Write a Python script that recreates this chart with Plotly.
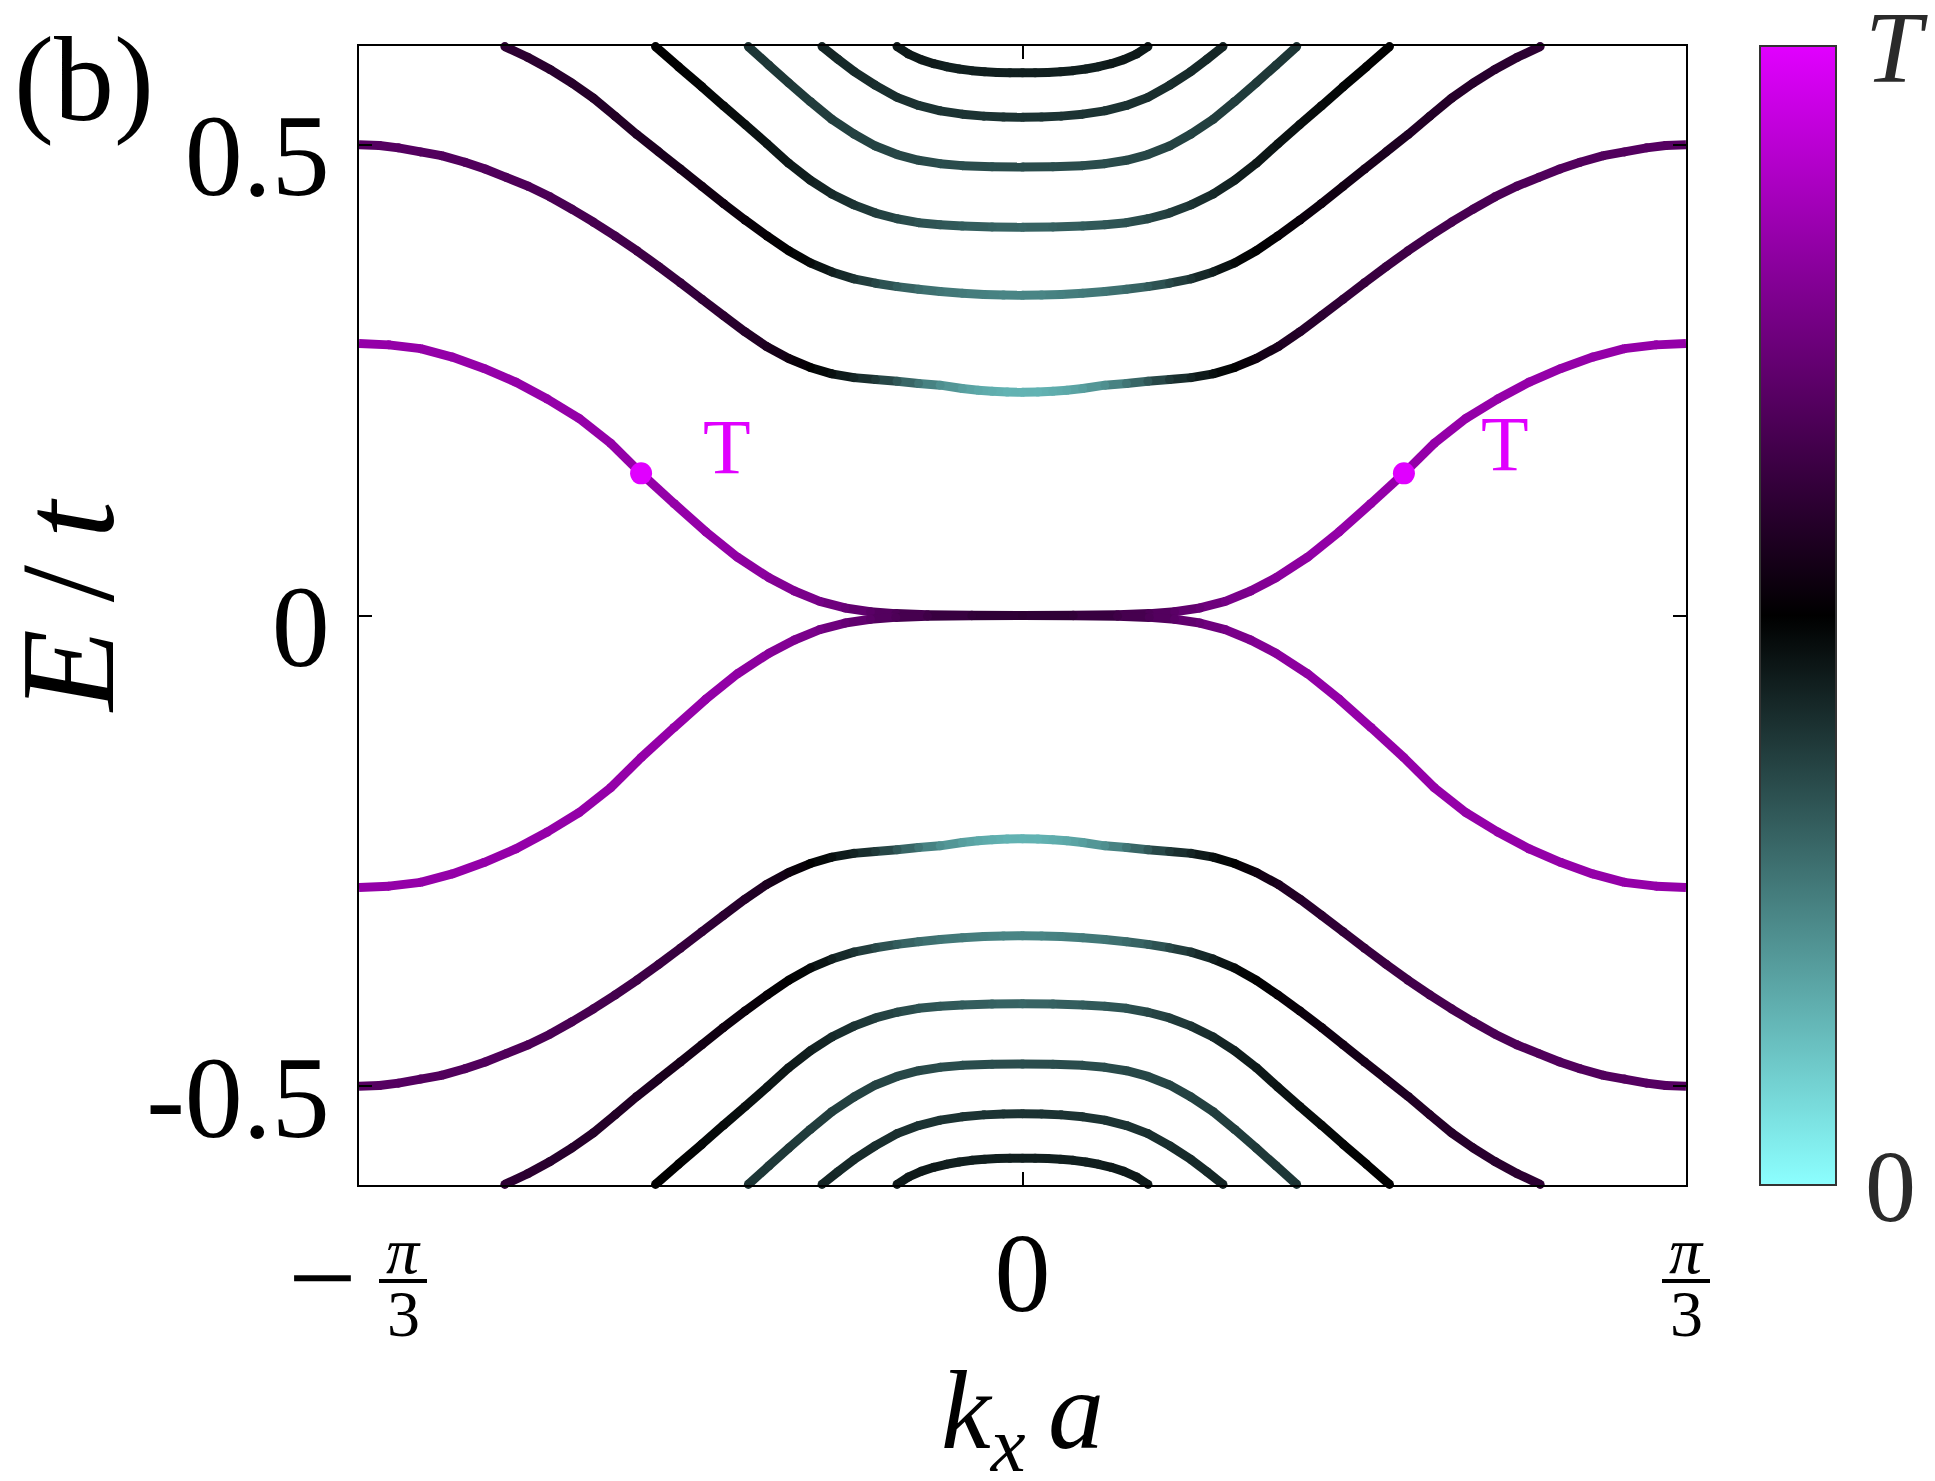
import numpy as np
import plotly.graph_objects as go

PI3 = np.pi / 3
SERIF = "Liberation Serif"

# ---------------- data ----------------
# Upper bands, left half only (kx*a from left end up to 0); E/t; colour value (0 -> 0, 1 -> T)
kx_A = [-1.0472, -1.00, -0.95, -0.90, -0.85, -0.80, -0.75, -0.70, -0.65, -0.602,
        -0.55, -0.50, -0.45, -0.40, -0.36, -0.32, -0.28, -0.24, -0.20, -0.15, -0.08, 0.0]
E_A = [0.289, 0.2875, 0.2835, 0.2745, 0.2625, 0.248, 0.230, 0.2095, 0.183, 0.151,
       0.119, 0.089, 0.062, 0.040, 0.026, 0.015, 0.008, 0.004, 0.002, 0.0007, 0.0002, 0.0]
c_A = [0.83, 0.83, 0.83, 0.83, 0.83, 0.83, 0.83, 0.83, 0.83, 0.83,
       0.83, 0.83, 0.82, 0.80, 0.78, 0.76, 0.73, 0.70, 0.67, 0.64, 0.61, 0.60]

kx_B = [-1.0472, -1.015, -0.985, -0.95, -0.917, -0.88, -0.848, -0.815, -0.780, -0.745,
        -0.711, -0.677, -0.643, -0.608, -0.574, -0.540, -0.506, -0.472, -0.438, -0.404,
        -0.369, -0.335, -0.301, -0.266, -0.232, -0.198, -0.164, -0.130, -0.095, -0.070,
        -0.048, -0.024, 0.0]
E_B = [0.500, 0.4993, 0.4968, 0.4925, 0.4885, 0.4815, 0.4743, 0.4655, 0.456, 0.4445,
       0.4316, 0.4178, 0.4031, 0.3872, 0.3706, 0.3535, 0.336, 0.3185, 0.3014, 0.2858,
       0.273, 0.2635, 0.2567, 0.2527, 0.2506, 0.2488, 0.2465, 0.2447, 0.2412, 0.2393,
       0.2382, 0.2374, 0.2372]
c_B = [0.69, 0.69, 0.69, 0.685, 0.68, 0.68, 0.68, 0.675, 0.67, 0.665,
       0.66, 0.655, 0.65, 0.64, 0.63, 0.62, 0.61, 0.595, 0.58, 0.56,
       0.53, 0.50, 0.47, 0.43, 0.39, 0.33, 0.27, 0.22, 0.19, 0.17,
       0.16, 0.15, 0.15]

kx_C = [-0.817, -0.781, -0.7455, -0.711, -0.677, -0.643, -0.6086, -0.574, -0.540, -0.506,
        -0.472, -0.438, -0.403, -0.369, -0.335, -0.301, -0.266, -0.232, -0.198, -0.164,
        -0.130, -0.095, -0.061, -0.030, 0.0]
E_C = [0.6044, 0.5930, 0.580, 0.5655, 0.5495, 0.5305, 0.5109, 0.4925, 0.4743, 0.456,
       0.4377, 0.4202, 0.4031, 0.3875, 0.3746, 0.365, 0.3576, 0.3530, 0.3494, 0.3465,
       0.3441, 0.3424, 0.3411, 0.3404, 0.3402]
c_C = [0.60, 0.595, 0.59, 0.585, 0.58, 0.575, 0.57, 0.56, 0.55, 0.54,
       0.53, 0.52, 0.51, 0.50, 0.48, 0.44, 0.40, 0.36, 0.32, 0.29,
       0.27, 0.26, 0.25, 0.24, 0.24]

kx_D = [-0.5792, -0.543, -0.506, -0.472, -0.4375, -0.403, -0.369, -0.335, -0.301, -0.266,
        -0.232, -0.198, -0.164, -0.130, -0.095, -0.048, 0.0]
E_D = [0.6044, 0.583, 0.5617, 0.5415, 0.5215, 0.501, 0.4804, 0.4625, 0.4478, 0.4362,
       0.4275, 0.4215, 0.4173, 0.4150, 0.4137, 0.4128, 0.4125]
c_D = [0.50, 0.50, 0.49, 0.48, 0.47, 0.46, 0.45, 0.44, 0.42, 0.40,
       0.38, 0.36, 0.34, 0.33, 0.32, 0.31, 0.30]

kx_E = [-0.4327, -0.40, -0.369, -0.335, -0.301, -0.266, -0.232, -0.198, -0.164, -0.130,
        -0.095, -0.048, 0.0]
E_E = [0.6044, 0.5845, 0.5658, 0.5460, 0.5271, 0.5115, 0.4987, 0.4897, 0.4836, 0.4800,
       0.4779, 0.4767, 0.4764]
c_E = [0.40, 0.39, 0.39, 0.38, 0.38, 0.37, 0.37, 0.36, 0.36, 0.35,
       0.35, 0.35, 0.35]

kx_F = [-0.3164, -0.291, -0.266, -0.232, -0.198, -0.164, -0.130, -0.095, -0.061, -0.030, 0.0]
E_F = [0.6044, 0.5908, 0.578, 0.5632, 0.5504, 0.5418, 0.5361, 0.5326, 0.5305, 0.5295, 0.5292]
c_F = [0.43, 0.42, 0.42, 0.41, 0.41, 0.40, 0.40, 0.40, 0.40, 0.40, 0.40]

kx_G = [-0.198, -0.180, -0.160, -0.140, -0.120, -0.100, -0.080, -0.060, -0.040, -0.020, 0.0]
E_G = [0.6044, 0.5965, 0.5905, 0.5862, 0.5830, 0.5806, 0.5788, 0.5776, 0.5769, 0.5766, 0.5765]
c_G = [0.45, 0.45, 0.45, 0.45, 0.44, 0.44, 0.44, 0.44, 0.44, 0.44, 0.44]

# marked points "T"
kx_T = [-0.602, 0.602]
E_T = [0.151, 0.151]
kx_Tlab = [-0.466, 0.7615]
E_Tlab = [0.180, 0.183]

# axis ticks
x_tickvals = [-PI3, 0.0, PI3]
y_tickvals = [-0.5, 0.0, 0.5]
y_ticktext = ["-0.5", "0", "0.5"]

# colour map (0 -> T)
cs_pos = [0.0, 0.5, 1.0]
cs_col = ["#8cffff", "#000000", "#e100ff"]
cbar_tickvals = [0, 1]
cbar_ticktext = ["0", "<i>T</i>"]

# ---------------- helpers ----------------
def hex2rgb(h):
    h = h.lstrip("#")
    return [int(h[i:i + 2], 16) for i in (0, 2, 4)]

def cmap(v):
    v = min(max(v, 0.0), 1.0)
    for i in range(len(cs_pos) - 1):
        if cs_pos[i] <= v <= cs_pos[i + 1]:
            t = (v - cs_pos[i]) / (cs_pos[i + 1] - cs_pos[i])
            a, b = hex2rgb(cs_col[i]), hex2rgb(cs_col[i + 1])
            r = [round(a[k] + t * (b[k] - a[k])) for k in range(3)]
            return "rgb(%d,%d,%d)" % tuple(r)
    return cs_col[-1]

def full_band(kx, E, c):
    # the picture is mirror-symmetric in kx: right half is the left half reflected
    xs = list(kx) + [-k for k in reversed(kx[:-1])]
    ys = list(E) + list(reversed(E[:-1]))
    cs = list(c) + list(reversed(c[:-1]))
    return xs, ys, cs

bands = [(kx_A, E_A, c_A), (kx_B, E_B, c_B), (kx_C, E_C, c_C), (kx_D, E_D, c_D),
         (kx_E, E_E, c_E), (kx_F, E_F, c_F), (kx_G, E_G, c_G)]

LW = 9
fig = go.Figure()

for sign in (1, -1):          # spectrum is symmetric in E
    for kx, E, c in bands:
        xs, ys, cs = full_band(kx, E, c)
        ys = [sign * y for y in ys]
        for i in range(len(xs) - 1):
            fig.add_trace(go.Scatter(
                x=[xs[i], xs[i + 1]], y=[ys[i], ys[i + 1]], mode="lines",
                line=dict(color=cmap(0.5 * (cs[i] + cs[i + 1])), width=LW),
                hoverinfo="skip", showlegend=False))
        fig.add_trace(go.Scatter(
            x=xs, y=ys, mode="markers", cliponaxis=False,
            marker=dict(size=LW, color=cs, coloraxis="coloraxis", line=dict(width=0)),
            hoverinfo="skip", showlegend=False))

# T points
fig.add_trace(go.Scatter(x=kx_T, y=E_T, mode="markers",
                         marker=dict(size=22, color="#e000ff", line=dict(width=0)),
                         hoverinfo="skip", showlegend=False))

annotations = []
for x, y in zip(kx_Tlab, E_Tlab):
    annotations.append(dict(text="T", x=x, y=y, xref="x", yref="y", showarrow=False,
                            font=dict(family=SERIF, size=78, color="#e000ff")))

# panel label
annotations.append(dict(text="(b)", xref="paper", yref="paper", x=-0.2615, y=0.9702,
                        xanchor="left", yanchor="middle", showarrow=False,
                        font=dict(family=SERIF, size=120, color="black")))
# axis titles
annotations.append(dict(text="<i>k<sub>x</sub>\u2009a</i>", xref="paper", yref="paper", x=0.5, y=-0.2046,
                        xanchor="center", yanchor="middle", valign="middle", height=124,
                        showarrow=False,
                        font=dict(family=SERIF, size=112, color="black")))
annotations.append(dict(text="<i>E</i>\u2009/\u2009<i>t</i>", xref="paper", yref="paper",
                        x=-0.2193, y=0.5092,
                        xanchor="center", yanchor="middle", valign="middle", height=136,
                        showarrow=False, textangle=-90,
                        font=dict(family=SERIF, size=134, color="black")))

# fraction tick labels  -pi/3 and pi/3
xr = [-PI3, PI3]
def xpaper(v):
    return (v - xr[0]) / (xr[1] - xr[0])

shapes = []
frac_specs = [(x_tickvals[0], 44, True), (x_tickvals[2], 0, False)]
for tv, dx, neg in frac_specs:
    annotations.append(dict(text="<i>π</i>", xref="x", yref="paper", x=tv, y=0, xshift=dx, yshift=-65,
                            xanchor="center", yanchor="middle", valign="middle", height=50,
                            showarrow=False,
                            font=dict(family=SERIF, size=66, color="black")))
    annotations.append(dict(text="3", xref="x", yref="paper", x=tv, y=0, xshift=dx, yshift=-128,
                            xanchor="center", yanchor="middle", valign="middle", height=54,
                            showarrow=False,
                            font=dict(family=SERIF, size=66, color="black")))
    shapes.append(dict(type="line", xref="paper", xsizemode="pixel", xanchor=xpaper(tv),
                       x0=dx - 24, x1=dx + 24, yref="paper", ysizemode="pixel", yanchor=0,
                       y0=-96, y1=-96, line=dict(color="black", width=4)))
    if neg:
        annotations.append(dict(text="−", xref="x", yref="paper", x=tv, y=0, xshift=-37, yshift=-92,
                                xanchor="center", yanchor="middle", showarrow=False,
                                font=dict(family=SERIF, size=122, color="black")))

fig.update_layout(
    width=1935, height=1481, autosize=False,
    margin=dict(l=359, r=249, t=46, b=296, autoexpand=False),
    paper_bgcolor="white", plot_bgcolor="white",
    showlegend=False,
    annotations=annotations, shapes=shapes,
    coloraxis=dict(
        colorscale=[[p, c] for p, c in zip(cs_pos, cs_col)], cmin=0, cmax=1,
        colorbar=dict(x=1.0558, xanchor="left", xpad=0, ypad=0, y=0.5, yanchor="middle",
                      len=1.0, lenmode="fraction", thickness=76, thicknessmode="pixels",
                      outlinewidth=2, outlinecolor="#333333",
                      tickvals=cbar_tickvals, ticktext=cbar_ticktext, ticks="outside", ticklen=8,
                      tickcolor="rgba(0,0,0,0)", ticklabeloverflow="allow",
                      tickfont=dict(family=SERIF, size=102, color="#2a2a2a")),
    ),
    xaxis=dict(range=xr, tickvals=x_tickvals[1:2], ticktext=["0"], showgrid=False, zeroline=False,
               showline=True, linecolor="black", linewidth=2, mirror="ticks",
               ticks="inside", ticklen=13, tickwidth=1.5, tickcolor="black",
               ticklabelstandoff=-10,
               tickfont=dict(family=SERIF, size=112, color="black")),
    yaxis=dict(range=[-0.605, 0.605], tickvals=y_tickvals, ticktext=y_ticktext, showgrid=False,
               zeroline=False, showline=True, linecolor="black", linewidth=2, mirror="ticks",
               ticks="inside", ticklen=13, tickwidth=1.5, tickcolor="black",
               ticklabelstandoff=4, ticklabelshift=10,
               tickfont=dict(family=SERIF, size=116, color="black")),
)

fig.write_html("out.html")
